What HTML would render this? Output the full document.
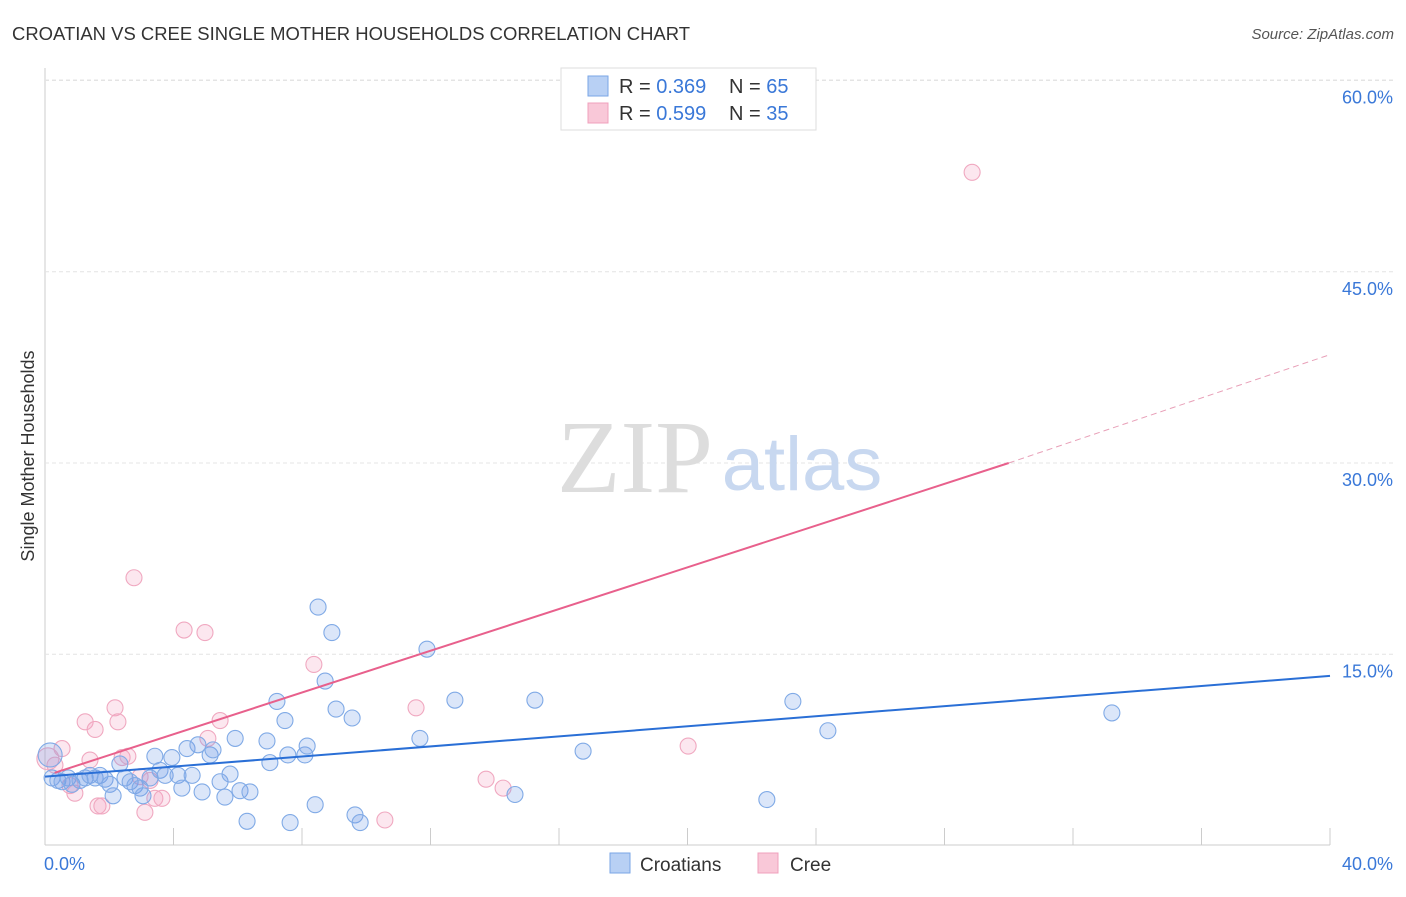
<!DOCTYPE html>
<html><head><meta charset="utf-8"><style>
body{margin:0;background:#fff;font-family:"Liberation Sans",sans-serif}
svg text{font-family:"Liberation Sans",sans-serif}
</style></head><body>
<svg id="c" width="1406" height="892" xmlns="http://www.w3.org/2000/svg">
<text x="12" y="40" font-size="18" fill="#333" textLength="678" lengthAdjust="spacingAndGlyphs">CROATIAN VS CREE SINGLE MOTHER HOUSEHOLDS CORRELATION CHART</text>
<text x="1394" y="39" font-size="15" fill="#555" text-anchor="end" font-style="italic">Source: ZipAtlas.com</text>
<text x="34" y="456" font-size="18" fill="#333" text-anchor="middle" transform="rotate(-90 34 456)">Single Mother Households</text>
<g id="grid"></g>
<g><text x="635" y="492" font-size="104" fill="#ddd" text-anchor="middle" style="font-family:'Liberation Serif',serif">ZIP</text><text x="802" y="490" font-size="76" fill="#c8d8f0" text-anchor="middle">atlas</text></g>
<g id="pts"></g>
<g id="lines"></g>
<g>
<rect x="561" y="68" width="255" height="62" fill="#fff" stroke="#ddd"/>
<rect x="588" y="76" width="20" height="20" fill="#b8d0f4" stroke="#7aa6e6"/>
<rect x="588" y="103" width="20" height="20" fill="#f9c8d8" stroke="#f0a0bc"/>
<text x="619" y="93" font-size="20" fill="#333">R = <tspan fill="#3a78d8">0.369</tspan></text>
<text x="729" y="93" font-size="20" fill="#333">N = <tspan fill="#3a78d8">65</tspan></text>
<text x="619" y="120" font-size="20" fill="#333">R = <tspan fill="#3a78d8">0.599</tspan></text>
<text x="729" y="120" font-size="20" fill="#333">N = <tspan fill="#3a78d8">35</tspan></text>
</g>
<g>
<rect x="610" y="853" width="20" height="20" fill="#b8d0f4" stroke="#7aa6e6"/>
<text x="640" y="871" font-size="19" fill="#333">Croatians</text>
<rect x="758" y="853" width="20" height="20" fill="#f9c8d8" stroke="#f0a0bc"/>
<text x="790" y="871" font-size="19" fill="#333">Cree</text>
</g>
</svg>
<script>
const yTicks=[15,30,45,60];
const yTickLabels=["15.0%","30.0%","45.0%","60.0%"];
const xTickCount=10;
const croatX=[0.16,0.22,0.40,0.53,0.72,0.84,1.09,1.25,1.40,1.56,1.71,1.87,2.02,2.12,2.33,2.49,2.65,2.80,2.96,3.05,3.27,3.42,3.58,3.74,3.95,4.14,4.26,4.42,4.58,4.76,4.89,5.14,5.23,5.45,5.60,5.76,5.92,6.07,6.38,6.29,6.91,7.00,7.22,7.47,7.56,7.63,8.09,8.16,8.41,8.50,8.72,8.93,9.06,9.56,9.65,9.81,11.67,11.89,12.76,14.63,15.25,16.75,22.47,23.28,24.37,33.21];
const croatY=[7.1,5.3,5.1,5.0,5.3,4.8,5.1,5.3,5.5,5.3,5.5,5.2,4.8,3.9,6.4,5.3,5.0,4.7,4.5,3.9,5.3,7.0,5.9,5.5,6.9,5.5,4.5,7.6,5.5,7.9,4.2,7.1,7.5,5.0,3.8,5.6,8.4,4.3,4.2,1.9,8.2,6.5,11.3,9.8,7.1,1.8,7.1,7.8,3.2,18.7,12.9,16.7,10.7,10.0,2.4,1.8,8.4,15.4,11.4,4.0,11.4,7.4,3.6,11.3,9.0,10.4];
const creeX=[0.09,0.31,0.53,0.78,0.93,1.25,1.40,1.56,1.65,1.77,2.18,2.27,2.40,2.58,2.77,2.96,3.11,3.27,3.42,3.64,4.33,4.98,5.07,5.45,8.37,10.58,11.55,13.73,14.26,20.02,28.86];
const creeY=[6.8,6.3,7.6,4.7,4.1,9.7,6.7,9.1,3.1,3.1,10.8,9.7,6.9,7.0,21.0,5.4,2.6,5.1,3.7,3.7,16.9,16.7,8.4,9.8,14.2,2.0,10.8,5.2,4.5,7.8,52.8];
const croatTrend=[[0,5.4],[40,13.3]];
const creeTrend=[[0.3,5.7],[30,30.0],[40,38.5]];
const X0=45,X1=1330,Y0=845.5;
const sx=v=>X0+(X1-X0)*v/40;
const sy=v=>Y0-v*12.75;
const NS="http://www.w3.org/2000/svg";
function mk(tag,attrs,parent){const e=document.createElementNS(NS,tag);for(const k in attrs)e.setAttribute(k,attrs[k]);parent.appendChild(e);return e;}
const grid=document.getElementById('grid');
mk('line',{x1:45,y1:68,x2:45,y2:845,stroke:'#ccc'},grid);
mk('line',{x1:45,y1:845,x2:1330,y2:845,stroke:'#ccc'},grid);
mk('line',{x1:45,y1:80,x2:1395,y2:80,stroke:'#e4e4e4','stroke-dasharray':'4,3'},grid);
yTicks.forEach((t,i)=>{
 const g=mk('line',{x1:45,y1:sy(t),x2:1395,y2:sy(t),stroke:'#e4e4e4','stroke-dasharray':'4,3'},grid);
 
 
 const tx=mk('text',{x:1393,y:sy(t)+23,'font-size':18,fill:'#3a78d8','text-anchor':'end'},grid);
 tx.textContent=yTickLabels[i];
 
 
});
for(let i=0;i<=xTickCount;i++){
 const x=sx(i*40/xTickCount);
 const l=mk('line',{x1:x,y1:828,x2:x,y2:845,stroke:'#ccc'},grid);
 
 
}
const xl=mk('text',{x:44,y:870,'font-size':18,fill:'#3a78d8'},grid);xl.textContent='0.0%';


const xr=mk('text',{x:1393,y:870,'font-size':18,fill:'#3a78d8','text-anchor':'end'},grid);xr.textContent='40.0%';


const pts=document.getElementById('pts');
creeX.forEach((v,i)=>{
 const c=mk('circle',{cx:sx(v),cy:sy(creeY[i]),r:i==0?11:8,fill:'rgba(244,160,190,0.25)',stroke:'#f0a8c0','stroke-width':1.1},pts);
 
 
});
croatX.forEach((v,i)=>{
 const c=mk('circle',{cx:sx(v),cy:sy(croatY[i]),r:i==0?12:8,fill:'rgba(110,155,230,0.25)',stroke:'#80aae6','stroke-width':1.1},pts);
 
 
});
const lines=document.getElementById('lines');
const bl=mk('line',{x1:sx(croatTrend[0][0]),y1:sy(croatTrend[0][1]),x2:sx(croatTrend[1][0]),y2:sy(croatTrend[1][1]),stroke:'#2a6fd6','stroke-width':2},lines);


const pl=mk('line',{x1:sx(creeTrend[0][0]),y1:sy(creeTrend[0][1]),x2:sx(creeTrend[1][0]),y2:sy(creeTrend[1][1]),stroke:'#e8608c','stroke-width':2},lines);


const pd=mk('line',{x1:sx(creeTrend[1][0]),y1:sy(creeTrend[1][1]),x2:sx(creeTrend[2][0]),y2:sy(creeTrend[2][1]),stroke:'#e8a0b8','stroke-width':1,'stroke-dasharray':'6,4'},lines);


</script>
</body></html>
